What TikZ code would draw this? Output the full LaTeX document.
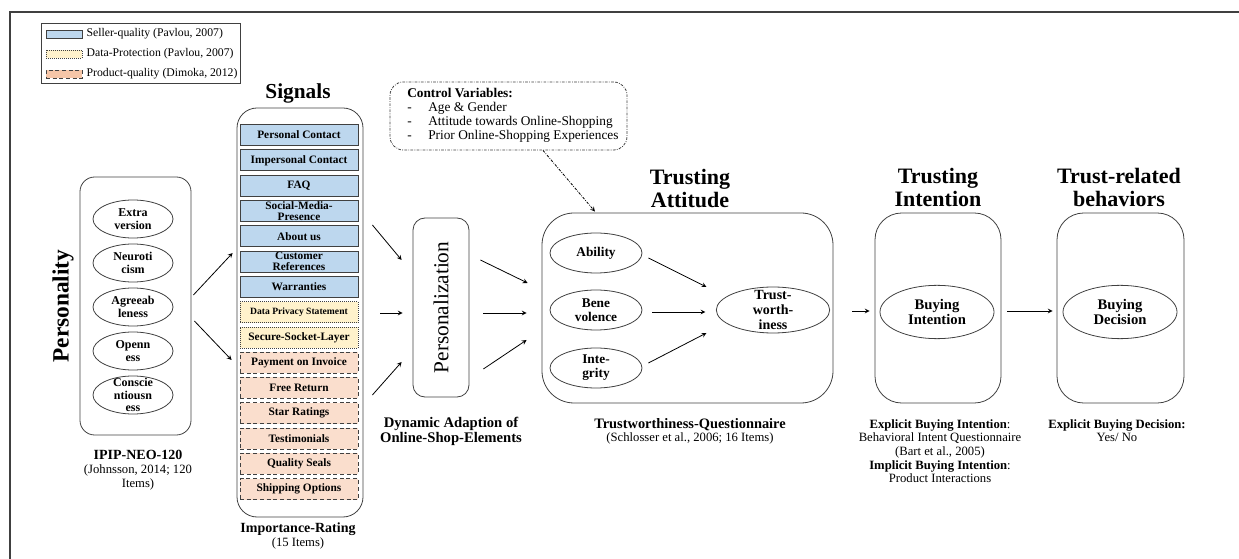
\documentclass[tikz,border=0pt]{standalone}
\usepackage{fontspec}
\setmainfont{Liberation Serif}
\usetikzlibrary{shapes.geometric, positioning}

\definecolor{sellerblue}{RGB}{189,215,238}
\definecolor{privacyyellow}{RGB}{255,242,204}
\definecolor{productorange}{RGB}{250,222,205}
\definecolor{legendorange}{RGB}{246,198,168}
\definecolor{linegray}{RGB}{64,64,64}

\tikzset{
  roundbox/.style={draw=linegray, line width=0.6pt, rounded corners=#1, inner sep=0pt},
  cellbase/.style={minimum width=88.5pt, minimum height=15.75pt, inner sep=0pt, align=center,
    draw=linegray, line width=0.5pt, font=\fontsize{8.5}{8.5}\selectfont\bfseries},
  seller/.style={cellbase, fill=sellerblue},
  privacy/.style={cellbase, fill=privacyyellow, densely dotted},
  privacysmall/.style={privacy, font=\fontsize{7.2}{7.2}\selectfont\bfseries},
  product/.style={cellbase, fill=productorange, densely dashed},
  legswatch/.style={minimum width=27pt, minimum height=6pt, inner sep=0pt, draw=linegray, line width=0.5pt},
  legseller/.style={legswatch, fill=sellerblue},
  legprivacy/.style={legswatch, fill=privacyyellow, densely dotted},
  legproduct/.style={legswatch, fill=legendorange, densely dashed},
  legtext/.style={inner sep=0pt, font=\fontsize{8.8}{8.8}\selectfont},
  trait/.style={ellipse, draw=linegray, line width=0.6pt, minimum width=60pt, minimum height=28.5pt,
    inner xsep=0pt, inner ysep=-6pt, align=center, font=\fontsize{9}{9.5}\selectfont\bfseries},
  facet/.style={trait, minimum width=69pt, minimum height=30pt, font=\fontsize{10}{10.5}\selectfont\bfseries},
  outcome/.style={trait, minimum width=85.5pt, minimum height=40pt, font=\fontsize{11}{11.5}\selectfont\bfseries},
  bigtitle/.style={inner sep=0pt, align=center, font=\fontsize{16.5}{17}\selectfont\bfseries},
  note/.style={inner sep=0pt, align=center, anchor=north, font=\fontsize{9.5}{10.3}\selectfont},
  arr/.style={->, line width=0.6pt},
}

\begin{document}
\begin{tikzpicture}[x=0.75pt, y=-0.75pt, >=stealth]
\useasboundingbox (0,0) rectangle (1239,559);
\draw[linegray, line width=0.9pt] (10,559) -- (10,12) -- (1239,12);

% legend
\node[draw=linegray, line width=0.5pt, minimum width=149.25pt, minimum height=45pt, inner sep=0pt] (legend) at (140.5,53) {};
\foreach \sty/\lab [count=\i from 0] in {legseller/{Seller-quality (Pavlou, 2007)},
    legprivacy/{Data-Protection (Pavlou, 2007)}, legproduct/{Product-quality (Dimoka, 2012)}}
{
  \node[\sty] (sw\i) at (64,{34+20*\i}) {};
  \node[legtext, right=3pt of sw\i] (lt\i) {\lab};
}

% personality
\node[roundbox=11pt, minimum width=83.25pt, minimum height=193.5pt] (pers) at (135.5,306) {};
\node[bigtitle, rotate=90, font=\fontsize{17.5}{17.5}\selectfont\bfseries] (perstitle) at (63,306) {Personality};
\foreach \lab [count=\i from 0] in {{Extra\\version}, {Neuroti\\cism}, {Agreeab\\leness}, {Openn\\ess}, {Conscie\\ntiousn\\ess}}
  \node[trait] (t\i) at (133,{219+44*\i}) {\lab};
\node[note] (perssrc) at (138,450) {{\fontsize{10.5}{10.5}\selectfont\bfseries IPIP-NEO-120}\\(Johnsson, 2014; 120\\Items)};

% signals
\node[roundbox=15pt, minimum width=94.5pt, minimum height=306.75pt] (signals) at (300,312.5) {};
\node[bigtitle, font=\fontsize{16}{16}\selectfont\bfseries] (sigtitle) at (298,93) {Signals};
\foreach \sty/\lab [count=\i from 0] in {seller/{Personal Contact}, seller/{Impersonal Contact}, seller/FAQ,
    seller/{Social-Media-\\Presence}, seller/{About us}, seller/{Customer\\References}, seller/Warranties,
    privacysmall/{Data Privacy Statement}, privacy/{Secure-Socket-Layer}, product/{Payment on Invoice},
    product/{Free Return}, product/{Star Ratings}, product/Testimonials, product/{Quality Seals},
    product/{Shipping Options}}
  \node[\sty] (s\i) at (299,{135+25.3*\i}) {\lab};
\node[note] (sigsrc) at (298,523) {{\fontsize{10.5}{10.5}\selectfont\bfseries Importance-Rating}\\(15 Items)};

% personalization
\node[roundbox=9pt, minimum width=42pt, minimum height=134.25pt] (persz) at (441,307.5) {};
\node[rotate=90, inner sep=0pt, font=\fontsize{16}{16}\selectfont] (persztext) at (441,307.5) {Personalization};
\node[note, font=\fontsize{11}{11.5}\selectfont\bfseries] (perszsrc) at (451,417) {Dynamic Adaption of\\Online-Shop-Elements};

% control variables
\node[roundbox=10pt, dash pattern=on 2pt off 1pt on 0.6pt off 1pt, minimum width=177.75pt, minimum height=51pt] (ctrl) at (508.5,116) {};
\node[anchor=north west, inner sep=0pt, align=left, font=\fontsize{10}{10.6}\selectfont] (ctrltext) at (407,88)
  {\textbf{Control Variables:}\\\makebox[15.75pt][l]{-}Age \& Gender\\\makebox[15.75pt][l]{-}Attitude towards Online-Shopping\\\makebox[15.75pt][l]{-}Prior Online-Shopping Experiences};

% trusting attitude
\node[roundbox=24pt, minimum width=218.25pt, minimum height=142.5pt] (attitude) at (687.5,308) {};
\node[bigtitle] (atttitle) at (690,188.5) {Trusting\\Attitude};
\node[facet] (ability) at (596,253) {Ability};
\node[facet] (bene) at (596,310) {Bene\\volence};
\node[facet] (integ) at (596,368) {Inte-\\grity};
\node[facet, minimum width=85pt, minimum height=34.5pt, font=\fontsize{10.5}{11.2}\selectfont\bfseries] (trust) at (773,310) {Trust-\\worth-\\iness};
\node[note] (attsrc) at (690,418) {{\fontsize{10.8}{10.8}\selectfont\bfseries Trustworthiness-Questionnaire}\\(Schlosser et al., 2006; 16 Items)};

% trusting intention
\node[roundbox=20pt, minimum width=94.5pt, minimum height=142.5pt] (intention) at (938,308) {};
\node[bigtitle] (inttitle) at (938,187.5) {Trusting\\Intention};
\node[outcome] (buyint) at (937,312) {Buying\\Intention};
\node[note] (intsrc) at (940,419) {\textbf{Explicit Buying Intention}:\\Behavioral Intent Questionnaire\\(Bart et al., 2005)\\\textbf{Implicit Buying Intention}:\\Product Interactions};

% trust-related behaviors
\node[roundbox=20pt, minimum width=95.25pt, minimum height=142.5pt] (behavior) at (1120.5,308) {};
\node[bigtitle] (behtitle) at (1119,187.5) {Trust-related\\behaviors};
\node[outcome] (buydec) at (1120,312) {Buying\\Decision};
\node[note] (behsrc) at (1117,419) {\textbf{Explicit Buying Decision:}\\Yes/ No};

% arrows
\draw[arr] ([shift={(2,-11)}]pers.east) -- ([shift={(-4,-59.5)}]signals.west);
\draw[arr] ([shift={(3,15)}]pers.east) -- ([shift={(-5,47.5)}]signals.west);
\draw[arr] ([shift={(9,-87.5)}]signals.east) -- ([shift={(-11,-47.5)}]persz.west);
\draw[arr] ([shift={(17,0.5)}]signals.east) -- ([shift={(-10,5.5)}]persz.west);
\draw[arr] ([shift={(9,82.5)}]signals.east) -- ([shift={(-11,54.5)}]persz.west);
\draw[arr] ([shift={(11,-47.5)}]persz.east) -- ([shift={(-14,-25)}]attitude.west);
\draw[arr] ([shift={(14,5.5)}]persz.east) -- ([shift={(-15,5)}]attitude.west);
\draw[arr] ([shift={(14,61.5)}]persz.east) -- ([shift={(-15,32)}]attitude.west);
\draw[arr] ([shift={(6,5)}]ability.east) -- ([shift={(-9.5,-23)}]trust.west);
\draw[arr] ([shift={(10,2)}]bene.east) -- ([shift={(-10.5,2)}]trust.west);
\draw[arr] ([shift={(6,-5)}]integ.east) -- ([shift={(-9.5,23)}]trust.west);
\draw[arr] ([shift={(19,3)}]attitude.east) -- ([shift={(-5,3)}]intention.west);
\draw[arr] ([shift={(6,3)}]intention.east) -- ([shift={(-4,3)}]behavior.west);
\draw[arr, dash pattern=on 2pt off 1pt on 0.6pt off 1pt] ([shift={(34.5,0)}]ctrl.south) -- ([shift={(-92.5,-1)}]attitude.north);
\end{tikzpicture}
\end{document}
